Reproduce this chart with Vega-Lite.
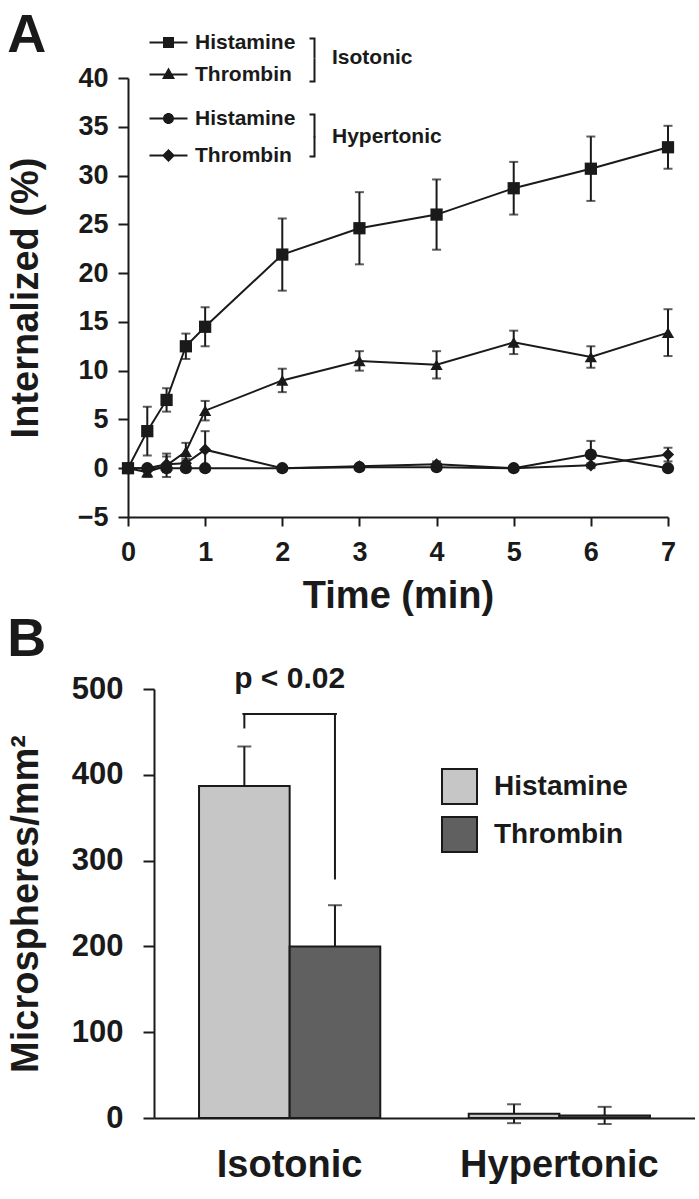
{
  "$schema": "https://vega.github.io/schema/vega-lite/v6.json",
  "background": "white",
  "padding": {"left": 0, "top": 9, "right": 0, "bottom": 0},
  "config": {
    "font": "Liberation Sans",
    "view": {"stroke": null},
    "axis": {"labelFontWeight": "bold", "titleFontWeight": "bold", "labelColor": "#1a1a1a", "titleColor": "#1a1a1a", "domainColor": "#1a1a1a", "tickColor": "#1a1a1a", "domainWidth": 2, "tickWidth": 2, "grid": false, "labelLimit": 400},
    "legend": {"labelColor": "#1a1a1a", "titleColor": "#1a1a1a", "labelFontWeight": "bold", "titleFontWeight": "bold", "padding": 0},
    "title": {"color": "#1a1a1a", "fontWeight": "bold"}
  },
  "datasets": {
    "timecourse": [
      {"cond": "Isotonic", "agonist": "Histamine", "t": 0, "mean": 0, "sem": 0},
      {"cond": "Isotonic", "agonist": "Histamine", "t": 0.25, "mean": 3.8, "sem": 2.5},
      {"cond": "Isotonic", "agonist": "Histamine", "t": 0.5, "mean": 7.0, "sem": 1.2},
      {"cond": "Isotonic", "agonist": "Histamine", "t": 0.75, "mean": 12.5, "sem": 1.3},
      {"cond": "Isotonic", "agonist": "Histamine", "t": 1, "mean": 14.5, "sem": 2.0},
      {"cond": "Isotonic", "agonist": "Histamine", "t": 2, "mean": 21.9, "sem": 3.7},
      {"cond": "Isotonic", "agonist": "Histamine", "t": 3, "mean": 24.6, "sem": 3.7},
      {"cond": "Isotonic", "agonist": "Histamine", "t": 4, "mean": 26.0, "sem": 3.6},
      {"cond": "Isotonic", "agonist": "Histamine", "t": 5, "mean": 28.7, "sem": 2.7},
      {"cond": "Isotonic", "agonist": "Histamine", "t": 6, "mean": 30.7, "sem": 3.3},
      {"cond": "Isotonic", "agonist": "Histamine", "t": 7, "mean": 32.9, "sem": 2.2},
      {"cond": "Isotonic", "agonist": "Thrombin", "t": 0, "mean": 0, "sem": 0},
      {"cond": "Isotonic", "agonist": "Thrombin", "t": 0.25, "mean": -0.4, "sem": 0.5},
      {"cond": "Isotonic", "agonist": "Thrombin", "t": 0.5, "mean": 0.3, "sem": 1.2},
      {"cond": "Isotonic", "agonist": "Thrombin", "t": 0.75, "mean": 1.7, "sem": 0.9},
      {"cond": "Isotonic", "agonist": "Thrombin", "t": 1, "mean": 5.9, "sem": 1.0},
      {"cond": "Isotonic", "agonist": "Thrombin", "t": 2, "mean": 9.0, "sem": 1.2},
      {"cond": "Isotonic", "agonist": "Thrombin", "t": 3, "mean": 11.0, "sem": 1.0},
      {"cond": "Isotonic", "agonist": "Thrombin", "t": 4, "mean": 10.6, "sem": 1.4},
      {"cond": "Isotonic", "agonist": "Thrombin", "t": 5, "mean": 12.9, "sem": 1.2},
      {"cond": "Isotonic", "agonist": "Thrombin", "t": 6, "mean": 11.4, "sem": 1.1},
      {"cond": "Isotonic", "agonist": "Thrombin", "t": 7, "mean": 13.9, "sem": 2.4},
      {"cond": "Hypertonic", "agonist": "Histamine", "t": 0, "mean": 0, "sem": 0},
      {"cond": "Hypertonic", "agonist": "Histamine", "t": 0.25, "mean": 0, "sem": 0},
      {"cond": "Hypertonic", "agonist": "Histamine", "t": 0.5, "mean": 0, "sem": 0},
      {"cond": "Hypertonic", "agonist": "Histamine", "t": 0.75, "mean": 0, "sem": 0},
      {"cond": "Hypertonic", "agonist": "Histamine", "t": 1, "mean": 0, "sem": 0},
      {"cond": "Hypertonic", "agonist": "Histamine", "t": 2, "mean": 0, "sem": 0},
      {"cond": "Hypertonic", "agonist": "Histamine", "t": 3, "mean": 0.1, "sem": 0.1},
      {"cond": "Hypertonic", "agonist": "Histamine", "t": 4, "mean": 0.1, "sem": 0.2},
      {"cond": "Hypertonic", "agonist": "Histamine", "t": 5, "mean": 0, "sem": 0},
      {"cond": "Hypertonic", "agonist": "Histamine", "t": 6, "mean": 1.4, "sem": 1.4},
      {"cond": "Hypertonic", "agonist": "Histamine", "t": 7, "mean": 0, "sem": 0.2},
      {"cond": "Hypertonic", "agonist": "Thrombin", "t": 0, "mean": 0, "sem": 0},
      {"cond": "Hypertonic", "agonist": "Thrombin", "t": 0.25, "mean": 0, "sem": 0},
      {"cond": "Hypertonic", "agonist": "Thrombin", "t": 0.5, "mean": 0.4, "sem": 0.8},
      {"cond": "Hypertonic", "agonist": "Thrombin", "t": 0.75, "mean": 0.5, "sem": 0.5},
      {"cond": "Hypertonic", "agonist": "Thrombin", "t": 1, "mean": 1.9, "sem": 1.9},
      {"cond": "Hypertonic", "agonist": "Thrombin", "t": 2, "mean": 0, "sem": 0},
      {"cond": "Hypertonic", "agonist": "Thrombin", "t": 3, "mean": 0.2, "sem": 0.2},
      {"cond": "Hypertonic", "agonist": "Thrombin", "t": 4, "mean": 0.4, "sem": 0.3},
      {"cond": "Hypertonic", "agonist": "Thrombin", "t": 5, "mean": 0, "sem": 0},
      {"cond": "Hypertonic", "agonist": "Thrombin", "t": 6, "mean": 0.3, "sem": 0.2},
      {"cond": "Hypertonic", "agonist": "Thrombin", "t": 7, "mean": 1.4, "sem": 0.7}
    ],
    "counts": [
      {"cond": "Isotonic", "agonist": "Histamine", "mean": 387, "sem": 46},
      {"cond": "Isotonic", "agonist": "Thrombin", "mean": 200, "sem": 48},
      {"cond": "Hypertonic", "agonist": "Histamine", "mean": 5, "sem": 11},
      {"cond": "Hypertonic", "agonist": "Thrombin", "mean": 3, "sem": 10}
    ],
    "bracket": [
      {"cond": "Isotonic", "agonist": "Histamine", "low": 454, "high": 471},
      {"cond": "Isotonic", "agonist": "Thrombin", "low": 278, "high": 471}
    ],
    "annotation": [
      {"cond": "Isotonic", "label": "p < 0.02", "value": 501}
    ]
  },
  "vconcat": [
    {
      "hconcat": [
        {"width": 1, "height": 1, "data": {"values": [{}]}, "mark": {"type": "point", "opacity": 0}},
        {
          "title": {"text": "A", "anchor": "start", "frame": "bounds", "fontSize": 54, "offset": -31},
          "width": 540,
          "height": 439,
          "data": {"name": "timecourse"},
          "encoding": {
            "x": {"field": "t", "type": "quantitative", "scale": {"domain": [0, 7], "nice": false},
              "axis": {"values": [0, 1, 2, 3, 4, 5, 6, 7], "title": "Time (min)", "labelFontSize": 27, "titleFontSize": 38, "tickSize": 9, "labelPadding": 13, "titlePadding": 12, "labelFlush": false}},
            "y": {"field": "mean", "type": "quantitative", "scale": {"domain": [-5, 40], "nice": false, "zero": false},
              "axis": {"values": [-5, 0, 5, 10, 15, 20, 25, 30, 35, 40], "title": "Internalized (%)", "labelFontSize": 27, "titleFontSize": 38, "tickSize": 10, "labelPadding": 10, "titlePadding": 32}}
          },
          "layer": [
            {"mark": {"type": "errorbar", "ticks": true, "size": 9, "thickness": 2, "color": "#1a1a1a"},
              "encoding": {"yError": {"field": "sem"}, "detail": [{"field": "cond"}, {"field": "agonist"}]}},
            {"mark": {"type": "line", "color": "#1a1a1a", "strokeWidth": 2},
              "encoding": {"detail": [{"field": "cond"}, {"field": "agonist"}]}},
            {"transform": [{"filter": "datum.cond === 'Isotonic'"}],
              "mark": {"type": "point", "filled": true, "opacity": 1, "color": "#1a1a1a", "size": 150},
              "encoding": {"shape": {"field": "agonist", "type": "nominal",
                "scale": {"domain": ["Histamine", "Thrombin"], "range": ["square", "triangle-up"]}, "legend": null}}},
            {"transform": [{"filter": "datum.cond === 'Hypertonic'"}],
              "mark": {"type": "point", "filled": true, "opacity": 1, "color": "#1a1a1a", "size": 150},
              "encoding": {"shape": {"field": "agonist", "type": "nominal",
                "scale": {"domain": ["Histamine", "Thrombin"], "range": ["circle", "diamond"]}, "legend": null}}},
            {"transform": [{"filter": "false"}],
              "mark": {"type": "point", "filled": true, "opacity": 1, "color": "#1a1a1a", "size": 400},
              "encoding": {"shape": {"field": "agonist", "type": "nominal",
                "scale": {"domain": ["Histamine", "Thrombin"], "range": [
                  "M-1.9,-0.1H1.9V0.1H-1.9Z M-0.55,-0.55H0.55V0.55H-0.55Z M14.1,-0.5H14.7V1.6H14.5V-0.3H14.1Z",
                  "M-1.9,-0.1H1.9V0.1H-1.9Z M0,-0.7L0.65,0.45H-0.65Z M14.5,-1.6H14.7V0.8H14.1V0.6H14.5Z"]},
                "legend": {"orient": "none", "legendX": 30, "legendY": -46, "title": "Isotonic", "titleOrient": "right", "titleAnchor": "middle", "titleFontSize": 21, "titlePadding": 16,
                  "labelFontSize": 21, "labelOffset": 16, "symbolSize": 400, "symbolStrokeWidth": 0, "rowPadding": -1}}}},
            {"transform": [{"filter": "false"}],
              "mark": {"type": "point", "filled": true, "opacity": 1, "color": "#1a1a1a", "size": 400},
              "encoding": {"shape": {"field": "agonist", "type": "nominal",
                "scale": {"domain": ["Histamine", "Thrombin"], "range": [
                  "M-1.9,-0.1H1.9V0.1H-1.9Z M-0.55,0A0.55,0.55 0 1,1 0.55,0A0.55,0.55 0 1,1 -0.55,0Z M14.1,-0.5H14.7V1.9H14.5V-0.3H14.1Z",
                  "M-1.9,-0.1H1.9V0.1H-1.9Z M0,-0.65L0.65,0L0,0.65L-0.65,0Z M14.5,-1.9H14.7V0.2H14.1V0H14.5Z"]},
                "legend": {"orient": "none", "legendX": 30, "legendY": 30, "title": "Hypertonic", "titleOrient": "right", "titleAnchor": "middle", "titleFontSize": 21, "titlePadding": 16,
                  "labelFontSize": 21, "labelOffset": 16, "symbolSize": 400, "symbolStrokeWidth": 0, "rowPadding": -2}}}}
          ],
          "resolve": {"scale": {"shape": "independent"}, "legend": {"shape": "independent"}}
        }
      ],
      "spacing": 0,
      "resolve": {"legend": {"shape": "independent", "fill": "independent"}}
    },
    {
      "hconcat": [
        {"width": 1, "height": 1, "data": {"values": [{}]}, "mark": {"type": "point", "opacity": 0}},
        {
          "title": {"text": "B", "anchor": "start", "frame": "bounds", "fontSize": 54, "offset": -3},
          "width": 541,
          "height": 429,
          "layer": [
            {"data": {"name": "counts"},
              "mark": {"type": "errorbar", "ticks": true, "size": 14, "thickness": 2, "color": "#1a1a1a"},
              "encoding": {
                "x": {"field": "cond", "type": "nominal", "sort": ["Isotonic", "Hypertonic"], "scale": {"paddingInner": 0.328, "paddingOuter": 0.167},
                  "axis": {"title": null, "labelAngle": 0, "ticks": false, "labelFontSize": 38, "labelPadding": 28}},
                "xOffset": {"field": "agonist", "type": "nominal", "sort": ["Histamine", "Thrombin"], "scale": {"paddingInner": 0, "paddingOuter": 0}},
                "y": {"field": "mean", "type": "quantitative", "scale": {"domain": [0, 500], "nice": false},
                  "axis": {"values": [0, 100, 200, 300, 400, 500], "title": "Microspheres/mm²", "labelFontSize": 31, "titleFontSize": 38, "tickSize": 11, "labelPadding": 20, "titlePadding": 26}},
                "yError": {"field": "sem"}
              }},
            {"data": {"name": "counts"},
              "mark": {"type": "bar", "stroke": "#1a1a1a", "strokeWidth": 2},
              "encoding": {
                "x": {"field": "cond", "type": "nominal", "sort": ["Isotonic", "Hypertonic"]},
                "xOffset": {"field": "agonist", "type": "nominal", "sort": ["Histamine", "Thrombin"]},
                "y": {"field": "mean", "type": "quantitative"},
                "fill": {"field": "agonist", "type": "nominal", "scale": {"domain": ["Histamine", "Thrombin"], "range": ["#c6c6c6", "#606060"]},
                  "legend": {"orient": "none", "legendX": 287, "legendY": 79, "title": null, "symbolType": "square", "symbolSize": 1225, "symbolStrokeWidth": 2, "symbolStrokeColor": "#1a1a1a",
                    "labelFontSize": 28, "labelOffset": 16, "rowPadding": 5}}
              }},
            {"data": {"name": "bracket"},
              "mark": {"type": "rule", "strokeWidth": 2, "color": "#1a1a1a"},
              "encoding": {
                "x": {"field": "cond", "type": "nominal", "sort": ["Isotonic", "Hypertonic"]},
                "xOffset": {"field": "agonist", "type": "nominal", "sort": ["Histamine", "Thrombin"]},
                "y": {"field": "low", "type": "quantitative"},
                "y2": {"field": "high"}
              }},
            {"data": {"name": "bracket"},
              "mark": {"type": "tick", "orient": "horizontal", "size": 94, "thickness": 2, "color": "#1a1a1a", "opacity": 1},
              "encoding": {
                "x": {"field": "cond", "type": "nominal", "sort": ["Isotonic", "Hypertonic"]},
                "y": {"field": "high", "type": "quantitative"}
              }},
            {"data": {"name": "annotation"},
              "mark": {"type": "text", "fontSize": 30, "fontWeight": "bold", "baseline": "alphabetic", "color": "#1a1a1a"},
              "encoding": {
                "x": {"field": "cond", "type": "nominal", "sort": ["Isotonic", "Hypertonic"]},
                "y": {"field": "value", "type": "quantitative"},
                "text": {"field": "label"}
              }}
          ]
        }
      ],
      "spacing": 0,
      "resolve": {"legend": {"shape": "independent", "fill": "independent"}}
    }
  ],
  "spacing": -2,
  "resolve": {"legend": {"shape": "independent", "fill": "independent"}}
}
